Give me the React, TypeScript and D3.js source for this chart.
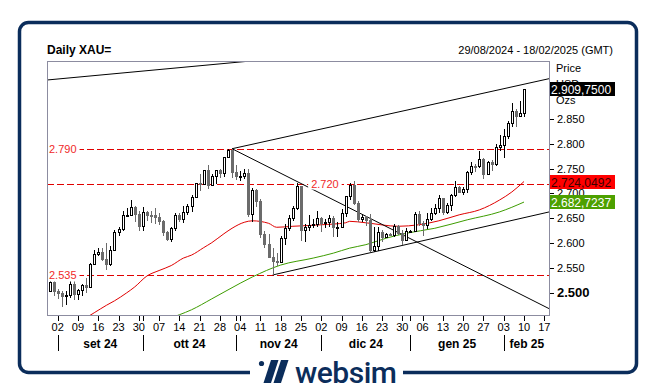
import * as d3 from "d3";
import React, { useRef, useEffect } from "react";

// daily XAU= candles: date, open, high, low, close
const candles: [string, number, number, number, number][] = [
  ["2024-08-29", 2504, 2531, 2502, 2521],
  ["2024-08-30", 2521, 2526, 2493, 2503],
  ["2024-09-02", 2503, 2507, 2488, 2500],
  ["2024-09-03", 2500, 2503, 2472, 2493],
  ["2024-09-04", 2493, 2504, 2476, 2495],
  ["2024-09-05", 2495, 2523, 2490, 2517],
  ["2024-09-06", 2517, 2529, 2485, 2497],
  ["2024-09-09", 2497, 2507, 2486, 2506],
  ["2024-09-10", 2506, 2517, 2494, 2516],
  ["2024-09-11", 2516, 2529, 2500, 2512],
  ["2024-09-12", 2512, 2560, 2510, 2558],
  ["2024-09-13", 2558, 2586, 2556, 2578],
  ["2024-09-16", 2578, 2590, 2575, 2582],
  ["2024-09-17", 2582, 2590, 2565, 2569],
  ["2024-09-18", 2569, 2600, 2546, 2559],
  ["2024-09-19", 2559, 2595, 2555, 2587],
  ["2024-09-20", 2587, 2626, 2585, 2622],
  ["2024-09-23", 2622, 2633, 2614, 2628],
  ["2024-09-24", 2628, 2664, 2625, 2657],
  ["2024-09-25", 2657, 2670, 2652, 2657],
  ["2024-09-26", 2657, 2686, 2654, 2672],
  ["2024-09-27", 2672, 2674, 2643, 2658],
  ["2024-09-30", 2658, 2665, 2625, 2634],
  ["2024-10-01", 2634, 2673, 2624, 2662],
  ["2024-10-02", 2662, 2664, 2644, 2657],
  ["2024-10-03", 2657, 2664, 2640, 2656],
  ["2024-10-04", 2656, 2671, 2639, 2653],
  ["2024-10-07", 2653, 2660, 2637, 2644],
  ["2024-10-08", 2644, 2646, 2614, 2622],
  ["2024-10-09", 2622, 2625, 2604, 2608],
  ["2024-10-10", 2608, 2632, 2603, 2630],
  ["2024-10-11", 2630, 2661, 2624, 2657],
  ["2024-10-14", 2657, 2661, 2642, 2649],
  ["2024-10-15", 2649, 2674, 2640, 2662],
  ["2024-10-16", 2662, 2678, 2656, 2674],
  ["2024-10-17", 2674, 2696, 2662, 2692],
  ["2024-10-18", 2692, 2722, 2690, 2721],
  ["2024-10-21", 2721, 2740, 2704, 2720],
  ["2024-10-22", 2720, 2748, 2718, 2748],
  ["2024-10-23", 2748, 2758, 2708, 2717],
  ["2024-10-24", 2717, 2740, 2715, 2736],
  ["2024-10-25", 2736, 2746, 2719, 2747],
  ["2024-10-28", 2747, 2749, 2732, 2742],
  ["2024-10-29", 2742, 2774, 2734, 2774],
  ["2024-10-30", 2774, 2790, 2772, 2788],
  ["2024-10-31", 2788, 2790, 2731, 2743],
  ["2024-11-01", 2743, 2758, 2728, 2736],
  ["2024-11-04", 2736, 2746, 2725, 2736],
  ["2024-11-05", 2736, 2750, 2730, 2742],
  ["2024-11-06", 2742, 2749, 2652, 2659],
  ["2024-11-07", 2659, 2711, 2643, 2706],
  ["2024-11-08", 2706, 2709, 2673, 2685],
  ["2024-11-11", 2685, 2688, 2611, 2619],
  ["2024-11-12", 2619, 2625, 2590, 2598],
  ["2024-11-13", 2598, 2618, 2573, 2573],
  ["2024-11-14", 2573, 2590, 2536, 2565],
  ["2024-11-15", 2565, 2580, 2555, 2563],
  ["2024-11-18", 2563, 2615, 2562, 2611],
  ["2024-11-19", 2611, 2639, 2597, 2631],
  ["2024-11-20", 2631, 2656, 2624, 2650],
  ["2024-11-21", 2650, 2674, 2644, 2670],
  ["2024-11-22", 2670, 2721, 2667, 2715],
  ["2024-11-25", 2715, 2716, 2605, 2626],
  ["2024-11-26", 2626, 2638, 2602, 2633],
  ["2024-11-27", 2633, 2656, 2625, 2636],
  ["2024-11-28", 2636, 2649, 2630, 2639],
  ["2024-11-29", 2639, 2665, 2633, 2650],
  ["2024-12-02", 2650, 2652, 2622, 2640],
  ["2024-12-03", 2640, 2649, 2630, 2643],
  ["2024-12-04", 2643, 2657, 2632, 2650],
  ["2024-12-05", 2650, 2655, 2613, 2632],
  ["2024-12-06", 2632, 2643, 2613, 2633],
  ["2024-12-09", 2633, 2668, 2631, 2660],
  ["2024-12-10", 2660, 2695, 2652, 2694],
  ["2024-12-11", 2694, 2721, 2687, 2718],
  ["2024-12-12", 2718, 2726, 2677, 2680],
  ["2024-12-13", 2680, 2685, 2643, 2648],
  ["2024-12-16", 2648, 2659, 2643, 2652],
  ["2024-12-17", 2652, 2655, 2634, 2646],
  ["2024-12-18", 2646, 2659, 2583, 2586],
  ["2024-12-19", 2586, 2632, 2583, 2594],
  ["2024-12-20", 2594, 2632, 2584, 2622],
  ["2024-12-23", 2622, 2626, 2602, 2612],
  ["2024-12-24", 2612, 2621, 2610, 2618],
  ["2024-12-25", 2618, 2621, 2615, 2617],
  ["2024-12-26", 2617, 2638, 2612, 2634],
  ["2024-12-27", 2634, 2637, 2616, 2621],
  ["2024-12-30", 2621, 2626, 2596, 2606],
  ["2024-12-31", 2606, 2630, 2604, 2624],
  ["2025-01-01", 2624, 2627, 2620, 2625],
  ["2025-01-02", 2625, 2662, 2623, 2658],
  ["2025-01-03", 2658, 2665, 2635, 2640],
  ["2025-01-06", 2640, 2645, 2614, 2636],
  ["2025-01-07", 2636, 2660, 2629, 2648],
  ["2025-01-08", 2648, 2670, 2645, 2661],
  ["2025-01-09", 2661, 2678, 2656, 2670],
  ["2025-01-10", 2670, 2697, 2661, 2690],
  ["2025-01-13", 2690, 2691, 2656, 2662],
  ["2025-01-14", 2662, 2680, 2659, 2677],
  ["2025-01-15", 2677, 2698, 2664, 2697],
  ["2025-01-16", 2697, 2725, 2693, 2714],
  ["2025-01-17", 2714, 2716, 2700, 2703],
  ["2025-01-20", 2703, 2714, 2696, 2708],
  ["2025-01-21", 2708, 2745, 2700, 2743],
  ["2025-01-22", 2743, 2763, 2737, 2756],
  ["2025-01-23", 2756, 2759, 2743, 2755],
  ["2025-01-24", 2755, 2786, 2752, 2770],
  ["2025-01-27", 2770, 2772, 2730, 2740],
  ["2025-01-28", 2740, 2765, 2738, 2763],
  ["2025-01-29", 2763, 2768, 2745, 2760],
  ["2025-01-30", 2760, 2800, 2756, 2794],
  ["2025-01-31", 2794, 2817, 2786, 2798],
  ["2025-02-03", 2798, 2830, 2772, 2815],
  ["2025-02-04", 2815, 2845, 2809, 2842],
  ["2025-02-05", 2842, 2882, 2834, 2866],
  ["2025-02-06", 2866, 2870, 2834, 2856],
  ["2025-02-07", 2856, 2886, 2853, 2861],
  ["2025-02-10", 2861, 2911, 2853, 2909.75],
];

// moving averages: [candle index, value]
const maRed: [number, number][] = [
  [9, 2450], [11, 2460], [14, 2475], [16, 2484], [19, 2500], [21, 2512],
  [24, 2534], [27, 2545], [30, 2555], [33, 2570], [35, 2576], [38, 2591],
  [40, 2601], [43, 2619], [45, 2630], [48, 2642], [50, 2645], [54, 2640],
  [56, 2632], [60, 2634], [67, 2637], [73, 2641], [74, 2644], [78, 2641],
  [86, 2634], [91, 2637], [96, 2645], [101, 2657], [106, 2667], [111, 2687],
  [114, 2703], [117, 2724.05],
];
const maGreen: [number, number][] = [
  [30, 2450], [32, 2456], [35, 2466], [40, 2488], [44, 2506], [50, 2532],
  [57, 2556], [65, 2570], [70, 2580], [74, 2590], [78, 2597], [83, 2610],
  [88, 2620], [95, 2630], [103, 2647], [111, 2663], [117, 2682.72],
];

// trend lines: [index1, value1, index2, value2]
const trendLines: [number, number, number, number][] = [
  [45, 2790, 123.5, 2931.5],
  [45, 2790, 123.5, 2467],
  [55, 2536, 123.5, 2663.4],
  [-1, 2928, 60, 2974.4],
];

const levels = [
  { value: 2790, label: "2.790", at: null as number | null },
  { value: 2720, label: "2.720", at: 64.5 },
  { value: 2535, label: "2.535", at: null as number | null },
];

const priceTicks = [2500, 2550, 2600, 2650, 2700, 2750, 2800, 2850];

const weekTicks = [
  "2024-09-02", "2024-09-09", "2024-09-16", "2024-09-23", "2024-09-30",
  "2024-10-07", "2024-10-14", "2024-10-21", "2024-10-28", "2024-11-04",
  "2024-11-11", "2024-11-18", "2024-11-25", "2024-12-02", "2024-12-09",
  "2024-12-16", "2024-12-23", "2024-12-30", "2025-01-06", "2025-01-13",
  "2025-01-20", "2025-01-27", "2025-02-03", "2025-02-10", "2025-02-17",
];
const monthStarts = ["2024-09-02", "2024-10-01", "2024-11-01", "2024-12-02", "2025-01-01", "2025-02-03"];
const monthLabels = ["set 24", "ott 24", "nov 24", "dic 24", "gen 25", "feb 25"];

const priceTags = [
  { value: 2909.75, text: "2.909,7500", bg: "#000000", fg: "#ffffff" },
  { value: 2724.0492, text: "2.724,0492", bg: "#ff0000", fg: "#3a0000" },
  { value: 2682.7237, text: "2.682,7237", bg: "#4da000", fg: "#ffffff" },
];

const W = 656;
const H = 392;
const plot = { left: 47, right: 550, top: 61, bottom: 316 };
const navy = "#0b2d5b";
const font = "'Liberation Sans', Arial, sans-serif";

const parse = d3.timeParse("%Y-%m-%d");

// index of a date counting weekdays only, from the first candle
const dayIndex = (s: string) => {
  const d = parse(s)!;
  let n = 0;
  for (let t = parse(candles[0][0])!; t < d; t = d3.timeDay.offset(t, 1)) {
    const w = t.getDay();
    if (w !== 0 && w !== 6) n++;
  }
  return n;
};

const App = () => {
  const svgRef = useRef<SVGSVGElement>(null);

  useEffect(() => {
    draw();
  }, []);

  const draw = () => {
    if (svgRef.current === null) return;
    const svg = d3.select(svgRef.current);
    svg.selectAll("*").remove();

    const x = d3.scaleLinear().domain([0, 117]).range([49.6, 524]);
    const y = d3.scaleLinear().domain([2453.5, 2966.5]).range([plot.bottom, plot.top]);
    const cy = (v: number) => Math.round(y(v)) + 0.5;

    // frame
    svg.append("rect").attr("width", W).attr("height", H).attr("fill", "#fff");
    svg
      .append("rect")
      .attr("x", 19.5)
      .attr("y", 22.5)
      .attr("width", 617)
      .attr("height", 350)
      .attr("rx", 9)
      .attr("fill", "none")
      .attr("stroke", navy)
      .attr("stroke-width", 3.5);

    // header
    svg
      .append("text")
      .attr("x", 47)
      .attr("y", 54)
      .attr("font-family", font)
      .attr("font-size", 12)
      .attr("font-weight", "bold")
      .text("Daily XAU=");
    svg
      .append("text")
      .attr("x", 613)
      .attr("y", 54)
      .attr("text-anchor", "end")
      .attr("font-family", font)
      .attr("font-size", 11)
      .text("29/08/2024 - 18/02/2025 (GMT)");

    svg
      .append("defs")
      .append("clipPath")
      .attr("id", "plot-clip")
      .append("rect")
      .attr("x", plot.left)
      .attr("y", plot.top)
      .attr("width", plot.right - plot.left)
      .attr("height", plot.bottom - plot.top);

    const g = svg.append("g").attr("clip-path", "url(#plot-clip)");

    // level lines
    levels.forEach((lv) => {
      g.append("line")
        .attr("x1", plot.left)
        .attr("x2", plot.right)
        .attr("y1", cy(lv.value))
        .attr("y2", cy(lv.value))
        .attr("stroke", "#e00000")
        .attr("stroke-dasharray", "7,3");
    });

    // moving averages
    const line = d3
      .line<[number, number]>()
      .x((d) => x(d[0]))
      .y((d) => y(d[1]))
      .curve(d3.curveMonotoneX);
    g.append("path").attr("d", line(maRed)).attr("fill", "none").attr("stroke", "#e00000");
    g.append("path").attr("d", line(maGreen)).attr("fill", "none").attr("stroke", "#3d9c00");

    // trend lines
    g.selectAll(".trend")
      .data(trendLines)
      .enter()
      .append("line")
      .attr("class", "trend")
      .attr("x1", (d) => x(d[0]))
      .attr("y1", (d) => y(d[1]))
      .attr("x2", (d) => x(d[2]))
      .attr("y2", (d) => y(d[3]))
      .attr("stroke", "#000")
      .attr("stroke-width", 1);

    // candles
    const c = g
      .selectAll(".candle")
      .data(candles)
      .enter()
      .append("g")
      .attr("class", "candle");
    c.append("line")
      .attr("x1", (d, i) => Math.round(x(i)) + 0.5)
      .attr("x2", (d, i) => Math.round(x(i)) + 0.5)
      .attr("y1", (d) => Math.round(y(d[2])))
      .attr("y2", (d) => Math.round(y(d[3])))
      .attr("stroke", (d) => (d[4] >= d[1] ? "#000" : "#6b6b6b"));
    c.append("rect")
      .attr("x", (d, i) => Math.round(x(i)) - 0.5)
      .attr("y", (d) => Math.round(y(Math.max(d[1], d[4]))) + 0.5)
      .attr("width", 2)
      .attr("height", (d) => Math.max(1, Math.round(y(Math.min(d[1], d[4]))) - Math.round(y(Math.max(d[1], d[4])))))
      .attr("fill", (d) => (d[4] >= d[1] ? "#fff" : "#6b6b6b"))
      .attr("stroke", (d) => (d[4] >= d[1] ? "#000" : "#6b6b6b"));

    // level labels
    levels.forEach((lv) => {
      const lx = lv.at === null ? plot.left + 2 : x(lv.at);
      const t = svg
        .append("text")
        .attr("x", lx)
        .attr("y", y(lv.value) + 4)
        .attr("font-family", font)
        .attr("font-size", 11)
        .attr("fill", "#f02828")
        .text(lv.label);
      const bb = (t.node() as SVGTextElement).getBBox();
      svg
        .insert("rect", () => t.node() as any)
        .attr("x", bb.x - 3)
        .attr("y", bb.y)
        .attr("width", bb.width + 6)
        .attr("height", bb.height)
        .attr("fill", "#fff");
    });

    // plot border
    svg
      .append("rect")
      .attr("x", plot.left + 0.5)
      .attr("y", plot.top + 0.5)
      .attr("width", plot.right - plot.left - 1)
      .attr("height", plot.bottom - plot.top - 1)
      .attr("fill", "none")
      .attr("stroke", "#8c8ca0");

    // price axis
    const ax = svg.append("g").attr("font-family", font);
    ["Price", "USD", "Ozs"].forEach((s, k) => {
      ax.append("text")
        .attr("x", 556)
        .attr("y", 71.5 + k * 16)
        .attr("font-size", 11)
        .text(s);
    });
    priceTicks.forEach((v) => {
      ax.append("line")
        .attr("x1", plot.right)
        .attr("x2", plot.right + 4)
        .attr("y1", cy(v))
        .attr("y2", cy(v))
        .attr("stroke", "#000");
      ax.append("text")
        .attr("x", 557)
        .attr("y", y(v) + 4)
        .attr("font-size", v === 2500 ? 13 : 11)
        .attr("font-weight", v === 2500 ? "bold" : "normal")
        .text(d3.format(",")(v).replace(",", "."));
    });
    priceTags.forEach((p) => {
      const ty = Math.round(y(p.value));
      ax.append("rect")
        .attr("x", plot.right)
        .attr("y", ty - 7)
        .attr("width", 65)
        .attr("height", 14)
        .attr("fill", p.bg);
      ax.append("text")
        .attr("x", plot.right + 1)
        .attr("y", ty + 4.5)
        .attr("font-size", 12)
        .attr("fill", p.fg)
        .text(p.text);
    });

    // time axis
    const tx = svg.append("g").attr("font-family", font);
    const tickIdx = Array.from(new Set(weekTicks.concat(monthStarts).map(dayIndex)));
    tickIdx.forEach((i) => {
      tx.append("line")
        .attr("x1", Math.round(x(i)) + 0.5)
        .attr("x2", Math.round(x(i)) + 0.5)
        .attr("y1", plot.bottom)
        .attr("y2", plot.bottom + 5)
        .attr("stroke", "#000");
    });
    weekTicks.forEach((s) => {
      tx.append("text")
        .attr("x", x(dayIndex(s)))
        .attr("y", 331)
        .attr("text-anchor", "middle")
        .attr("font-size", 11)
        .text(d3.timeFormat("%d")(parse(s)!));
    });
    const bounds = monthStarts.map((s) => x(dayIndex(s))).concat([plot.right]);
    monthStarts.forEach((s, k) => {
      const bx = Math.round(bounds[k]) + 0.5;
      tx.append("line")
        .attr("x1", bx)
        .attr("x2", bx)
        .attr("y1", 335)
        .attr("y2", 351)
        .attr("stroke", "#000");
      tx.append("text")
        .attr("x", (bounds[k] + bounds[k + 1]) / 2)
        .attr("y", 347.5)
        .attr("text-anchor", "middle")
        .attr("font-size", 12)
        .attr("font-weight", "bold")
        .text(monthLabels[k]);
    });

    // logo on the bottom edge
    const logo = svg.append("g");
    logo.append("rect").attr("x", 250).attr("y", 364).attr("width", 153).attr("height", 20).attr("fill", "#fff");
    logo.append("circle").attr("cx", 261.5).attr("cy", 363.5).attr("r", 2.6).attr("fill", navy);
    [0, 10].forEach((dx) => {
      logo
        .append("polygon")
        .attr(
          "points",
          `${271 + dx},360 ${278.5 + dx},360 ${271 + dx},383 ${263.5 + dx},383`
        )
        .attr("fill", navy);
    });
    logo
      .append("text")
      .attr("x", 295)
      .attr("y", 383)
      .attr("font-family", "Roboto, 'Liberation Sans', sans-serif")
      .attr("font-size", 30)
      .attr("font-weight", 500)
      .attr("textLength", 102)
      .attr("fill", navy)
      .text("websim");
  };

  return (
    <div>
      <svg
        ref={svgRef}
        width={W}
        height={H}
        style={{ position: "absolute", left: 0, top: 0 }}
      ></svg>
    </div>
  );
};

export default App;
